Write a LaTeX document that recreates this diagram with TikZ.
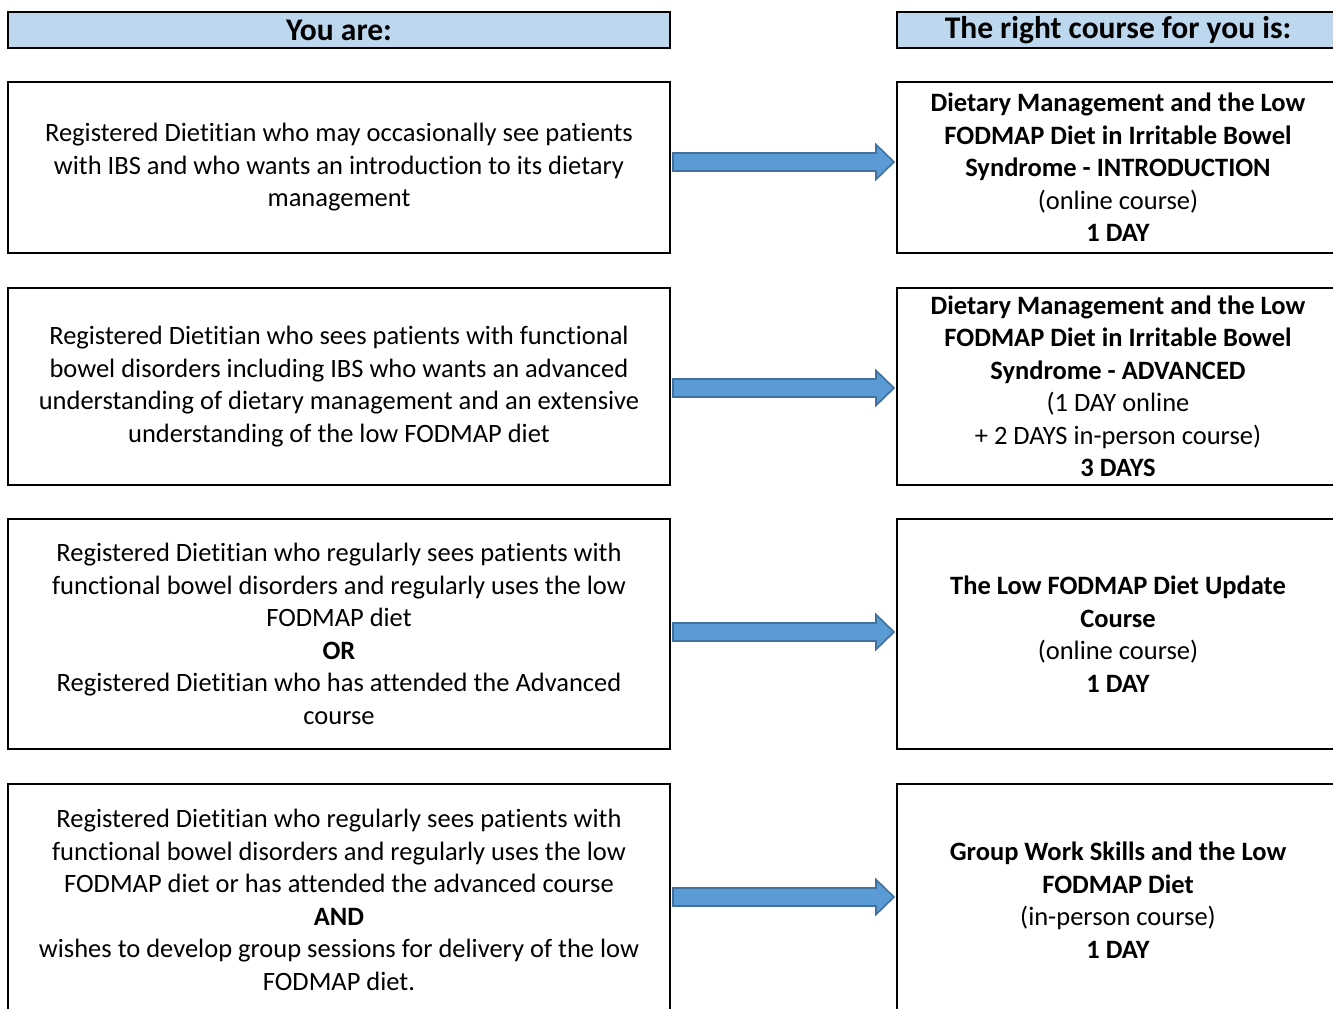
\documentclass[tikz,border=0pt]{standalone}
\usepackage{fontspec}
\setmainfont{Carlito}[Ligatures=NoCommon]
\usetikzlibrary{calc}
\definecolor{hdrfill}{HTML}{BDD7EE}
\definecolor{arrfill}{HTML}{5B9BD5}
\definecolor{arrdraw}{HTML}{41719C}
\newcommand\fatarrow[3]{%
  \draw[arrowbody] ($(#1.east)+(3,#3-9)$) -- ($(#2.west)+(-21,#3-9)$) -- ($(#2.west)+(-21,#3-17.5)$) -- ($(#2.west)+(-3,#3)$) -- ($(#2.west)+(-21,#3+17.5)$) -- ($(#2.west)+(-21,#3+9)$) -- ($(#1.east)+(3,#3+9)$) -- cycle;}
\begin{document}
\begin{tikzpicture}[x=1pt,y=-1pt,
  box/.style={draw=black, line width=2.2pt, inner sep=0pt, outer sep=0pt, align=center,
    font=\fontsize{26.5}{32.5}\selectfont},
  leftbox/.style={box, minimum width=662pt},
  rightbox/.style={box, minimum width=442pt},
  hdr/.style={box, fill=hdrfill, line width=1.8pt, minimum height=36pt, font=\fontsize{31.5}{34}\selectfont\bfseries},
  arrowbody/.style={fill=arrfill, draw=arrdraw, line width=1.6pt, line join=miter}
]
\clip (0,0) rectangle (1333,1009);
\useasboundingbox (0,0) rectangle (1333,1009);

\node[hdr, minimum width=662pt] (hl) at (339,30) {You are:};
\node[hdr, minimum width=442pt] (hr) at (1118,30) {The right course for you is:};

% row 1
\node[leftbox, minimum height=171pt] (l1) at (339,167.5) {Registered Dietitian who may occasionally see patients\\with IBS and who wants an introduction to its dietary\\management};
\node[rightbox, minimum height=171pt] (r1) at (1118,167.5) {\textbf{Dietary Management and the Low}\\\textbf{FODMAP Diet in Irritable Bowel}\\\textbf{Syndrome - INTRODUCTION}\\(online course)\\\textbf{1 DAY}};

% row 2
\node[leftbox, minimum height=197pt] (l2) at (339,386.5) {Registered Dietitian who sees patients with functional\\bowel disorders including IBS who wants an advanced\\understanding of dietary management and an extensive\\understanding of the low FODMAP diet};
\node[rightbox, minimum height=197pt] (r2) at (1118,386.5) {\textbf{Dietary Management and the Low}\\\textbf{FODMAP Diet in Irritable Bowel}\\\textbf{Syndrome - ADVANCED}\\(1 DAY online\\+ 2 DAYS in-person course)\\\textbf{3 DAYS}};

% row 3
\node[leftbox, minimum height=230pt] (l3) at (339,634) {Registered Dietitian who regularly sees patients with\\functional bowel disorders and regularly uses the low\\FODMAP diet\\\textbf{OR}\\Registered Dietitian who has attended the Advanced\\course};
\node[rightbox, minimum height=230pt] (r3) at (1118,634) {\textbf{The Low FODMAP Diet Update}\\\textbf{Course}\\(online course)\\\textbf{1 DAY}};

% row 4
\node[leftbox, minimum height=232pt] (l4) at (339,900) {Registered Dietitian who regularly sees patients with\\functional bowel disorders and regularly uses the low\\FODMAP diet or has attended the advanced course\\\textbf{AND}\\wishes to develop group sessions for delivery of the low\\FODMAP diet.};
\node[rightbox, minimum height=232pt] (r4) at (1118,900) {\textbf{Group Work Skills and the Low}\\\textbf{FODMAP Diet}\\(in-person course)\\\textbf{1 DAY}};

\fatarrow{l1}{r1}{-5.5}
\fatarrow{l2}{r2}{1.5}
\fatarrow{l3}{r3}{-2}
\fatarrow{l4}{r4}{-3}
\end{tikzpicture}
\end{document}
